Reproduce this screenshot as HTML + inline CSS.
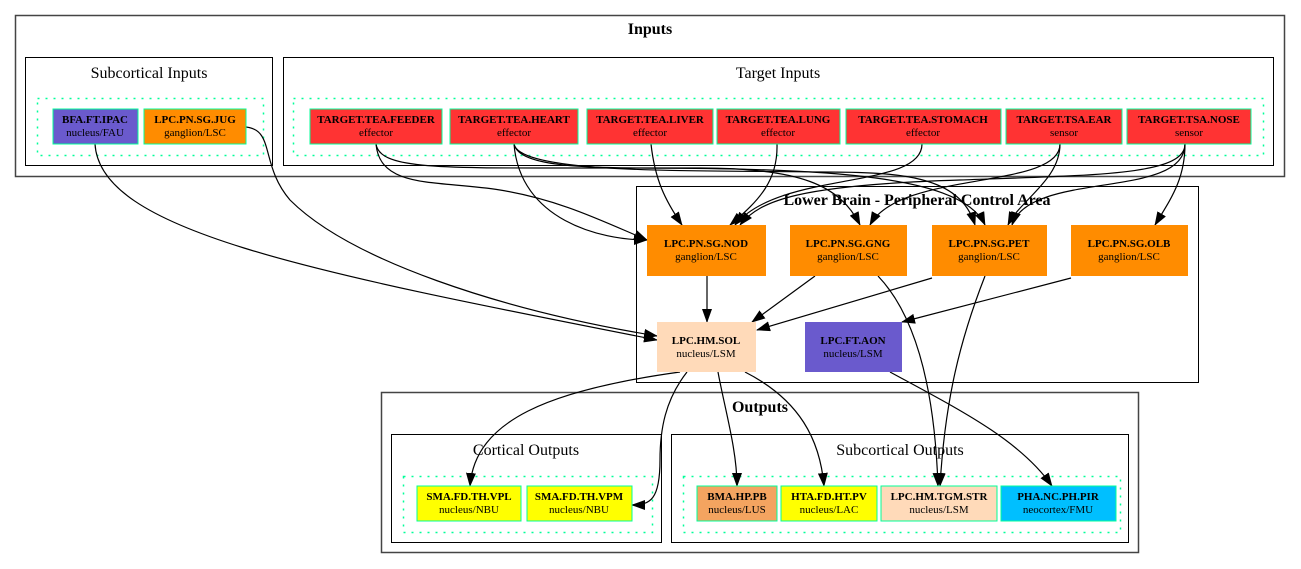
<!DOCTYPE html>
<html><head><meta charset="utf-8"><style>
html,body{margin:0;padding:0;background:#fff;}
svg{display:block;font-family:"Liberation Serif",serif;}
.b{font-weight:bold;font-size:11px;}
.s{font-size:11px;}
.t{font-size:16px;}
.tb{font-size:16px;font-weight:bold;}
.e{fill:none;stroke:#000;stroke-width:1.2;}
</style></head><body>
<svg width="1301" height="569" viewBox="0 0 1301 569" xmlns="http://www.w3.org/2000/svg">
<defs><marker id="a" markerWidth="14" markerHeight="10" refX="13" refY="5" orient="auto" markerUnits="userSpaceOnUse"><path d="M0,0 L14,5 L0,10 z" fill="#000"/></marker></defs>
<g fill="none" stroke="#000">
<rect x="15.5" y="15.5" width="1269" height="161" stroke="#444" stroke-width="1.5"/>
<rect x="25.5" y="57.5" width="247" height="108"/>
<rect x="283.5" y="57.5" width="990" height="108"/>
<rect x="636.5" y="186.5" width="562" height="196"/>
<rect x="381.5" y="392.5" width="757" height="160" stroke="#444" stroke-width="1.5"/>
<rect x="391.5" y="434.5" width="270" height="108"/>
<rect x="671.5" y="434.5" width="457" height="108"/>
</g>
<g fill="none" stroke="#00ff99" stroke-width="1.5" stroke-dasharray="2,6">
<rect x="37.5" y="98.5" width="226" height="57"/>
<rect x="293.5" y="98.5" width="970" height="57"/>
<rect x="403.5" y="476.5" width="249" height="56"/>
<rect x="683.5" y="476.5" width="437" height="56"/>
</g>
<g text-anchor="middle">
<text x="650" y="34" class="tb">Inputs</text>
<text x="149" y="78" class="t">Subcortical Inputs</text>
<text x="778" y="78" class="t">Target Inputs</text>
<text x="917" y="205" class="tb">Lower Brain - Peripheral Control Area</text>
<text x="760" y="412" class="tb">Outputs</text>
<text x="526" y="455" class="t">Cortical Outputs</text>
<text x="900" y="455" class="t">Subcortical Outputs</text>
</g>
<g class="e" marker-end="url(#a)">
<path d="M95,144 C100,230 300,270 657,340"/>
<path d="M246,127 C275,130 260,165 290,200 C350,260 500,310 657,336"/>
<path d="M376,144 C380,190 440,180 500,190 C560,200 600,220 647,240"/>
<path d="M376,144 C380,170 440,168 600,168 C800,168 960,170 985,225"/>
<path d="M514,144 C520,220 600,240 647,240"/>
<path d="M514,144 C520,170 600,168 700,168 C800,168 840,185 860,225"/>
<path d="M514,144 C520,175 700,170 820,172 C900,172 960,175 975,225"/>
<path d="M651,144 C655,180 665,200 682,225"/>
<path d="M777,144 C778,180 760,200 730,225"/>
<path d="M922,144 C922,190 780,170 735,225"/>
<path d="M1060,144 C1060,190 900,170 870,225"/>
<path d="M1060,144 C1060,180 1020,200 1008,225"/>
<path d="M1185,144 C1185,175 1100,175 960,180 C800,185 760,200 740,225"/>
<path d="M1185,144 C1185,200 1030,170 1012,225"/>
<path d="M1185,144 C1185,180 1170,200 1155,225"/>
<path d="M707,276 L707,322"/>
<path d="M815,276 L752,322"/>
<path d="M932,278 L757,330"/>
<path d="M1071,278 L902,322"/>
<path d="M878,276 C920,320 935,400 938,486"/>
<path d="M985,276 C960,340 945,400 940,486"/>
<path d="M680,372 C550,390 475,420 470,486"/>
<path d="M687,372 C665,400 660,430 660,460 C660,500 650,505 632,505"/>
<path d="M718,372 C725,410 737,450 737,486"/>
<path d="M745,372 C800,400 820,440 824,486"/>
<path d="M890,372 C960,410 1020,440 1052,486"/>
</g>
<g stroke="#00ff99">
<rect x="53" y="109" width="85" height="35" fill="#6a5acd"/>
<rect x="144" y="109" width="102" height="35" fill="#ff8c00"/>
<rect x="310" y="109" width="132" height="35" fill="#ff3333"/>
<rect x="450" y="109" width="128" height="35" fill="#ff3333"/>
<rect x="587" y="109" width="126" height="35" fill="#ff3333"/>
<rect x="717" y="109" width="123" height="35" fill="#ff3333"/>
<rect x="846" y="109" width="155" height="35" fill="#ff3333"/>
<rect x="1006" y="109" width="116" height="35" fill="#ff3333"/>
<rect x="1127" y="109" width="124" height="35" fill="#ff3333"/>
<rect x="417" y="486" width="104" height="35" fill="#ffff00"/>
<rect x="527" y="486" width="105" height="35" fill="#ffff00"/>
<rect x="697" y="486" width="80" height="35" fill="#f4a460"/>
<rect x="781" y="486" width="96" height="35" fill="#ffff00"/>
<rect x="881" y="486" width="116" height="35" fill="#ffdab9"/>
<rect x="1001" y="486" width="115" height="35" fill="#00bfff"/>
</g>
<rect x="647" y="225" width="119" height="51" fill="#ff8c00"/>
<rect x="790" y="225" width="117" height="51" fill="#ff8c00"/>
<rect x="932" y="225" width="115" height="51" fill="#ff8c00"/>
<rect x="1071" y="225" width="117" height="51" fill="#ff8c00"/>
<rect x="657" y="322" width="99" height="50" fill="#ffdab9"/>
<rect x="805" y="322" width="97" height="50" fill="#6a5acd"/>
<g text-anchor="middle">
<text x="95" y="123" class="b">BFA.FT.IPAC</text><text x="95" y="136" class="s">nucleus/FAU</text>
<text x="195" y="123" class="b">LPC.PN.SG.JUG</text><text x="195" y="136" class="s">ganglion/LSC</text>
<text x="376" y="123" class="b">TARGET.TEA.FEEDER</text><text x="376" y="136" class="s">effector</text>
<text x="514" y="123" class="b">TARGET.TEA.HEART</text><text x="514" y="136" class="s">effector</text>
<text x="650" y="123" class="b">TARGET.TEA.LIVER</text><text x="650" y="136" class="s">effector</text>
<text x="778" y="123" class="b">TARGET.TEA.LUNG</text><text x="778" y="136" class="s">effector</text>
<text x="923" y="123" class="b">TARGET.TEA.STOMACH</text><text x="923" y="136" class="s">effector</text>
<text x="1064" y="123" class="b">TARGET.TSA.EAR</text><text x="1064" y="136" class="s">sensor</text>
<text x="1189" y="123" class="b">TARGET.TSA.NOSE</text><text x="1189" y="136" class="s">sensor</text>
<text x="706" y="247" class="b">LPC.PN.SG.NOD</text><text x="706" y="260" class="s">ganglion/LSC</text>
<text x="848" y="247" class="b">LPC.PN.SG.GNG</text><text x="848" y="260" class="s">ganglion/LSC</text>
<text x="989" y="247" class="b">LPC.PN.SG.PET</text><text x="989" y="260" class="s">ganglion/LSC</text>
<text x="1129" y="247" class="b">LPC.PN.SG.OLB</text><text x="1129" y="260" class="s">ganglion/LSC</text>
<text x="706" y="344" class="b">LPC.HM.SOL</text><text x="706" y="357" class="s">nucleus/LSM</text>
<text x="853" y="344" class="b">LPC.FT.AON</text><text x="853" y="357" class="s">nucleus/LSM</text>
<text x="469" y="500" class="b">SMA.FD.TH.VPL</text><text x="469" y="513" class="s">nucleus/NBU</text>
<text x="579" y="500" class="b">SMA.FD.TH.VPM</text><text x="579" y="513" class="s">nucleus/NBU</text>
<text x="737" y="500" class="b">BMA.HP.PB</text><text x="737" y="513" class="s">nucleus/LUS</text>
<text x="829" y="500" class="b">HTA.FD.HT.PV</text><text x="829" y="513" class="s">nucleus/LAC</text>
<text x="939" y="500" class="b">LPC.HM.TGM.STR</text><text x="939" y="513" class="s">nucleus/LSM</text>
<text x="1058" y="500" class="b">PHA.NC.PH.PIR</text><text x="1058" y="513" class="s">neocortex/FMU</text>
</g>
</svg>
</body></html>
